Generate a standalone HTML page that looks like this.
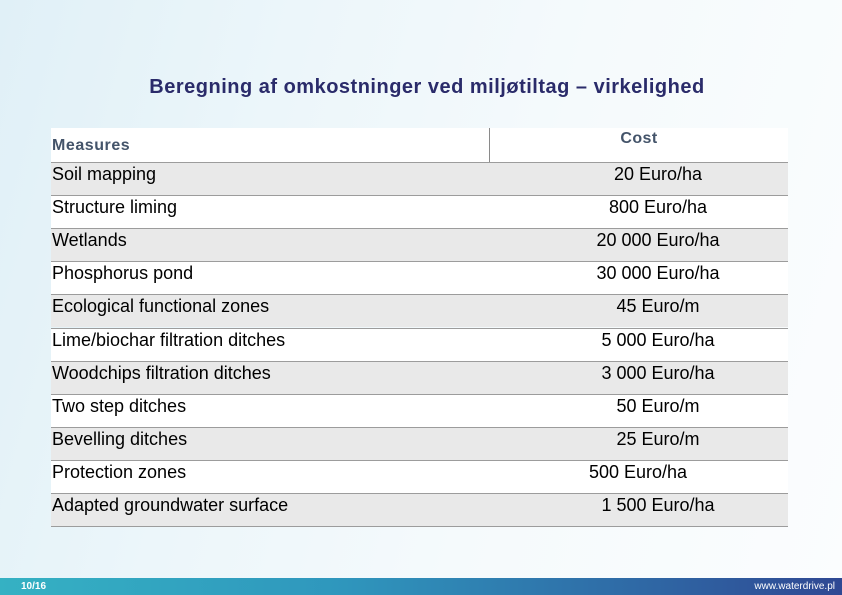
<!DOCTYPE html>
<html>
<head>
<meta charset="utf-8">
<style>
  html,body{margin:0;padding:0;}
  body{width:842px;height:595px;position:relative;overflow:hidden;
    background:linear-gradient(105deg,#e0f0f7 0%,#ecf6fa 30%,#f5fafc 60%,#fbfdfe 100%);
    font-family:"Liberation Sans",Arial,sans-serif;}
  .title{position:absolute;left:0;width:854px;top:75px;text-align:center;
    font-weight:bold;font-size:20px;letter-spacing:0.5px;color:#2a2b6a;line-height:24px;}
  .hdr{position:absolute;left:51px;top:128px;width:737px;height:34px;background:#fff;}
  .vdiv{position:absolute;left:489px;top:128px;width:1px;height:34px;background:#8a8a8a;}
  .hm{position:absolute;left:52px;top:136px;font-weight:bold;font-size:16px;letter-spacing:0.55px;color:#44546a;line-height:20px;}
  .hc{position:absolute;left:560px;width:158px;text-align:center;top:129px;font-weight:bold;font-size:16px;letter-spacing:0.4px;color:#44546a;line-height:20px;}
  .row{position:absolute;left:51px;width:737px;height:33.1px;border-top:1px solid #9c9c9c;box-sizing:border-box;}
  .g{background:#e9e9e9;}
  .w{background:#fff;}
  .lab{position:absolute;left:1px;top:0px;font-size:18px;line-height:22px;color:#000;white-space:nowrap;}
  .val{position:absolute;left:507px;width:200px;top:0px;text-align:center;font-size:18px;line-height:22px;color:#000;white-space:nowrap;}
  .bot{position:absolute;left:51px;top:526px;width:737px;height:1px;background:#9c9c9c;}
  .foot{position:absolute;left:0;top:578px;width:842px;height:17px;
    background:linear-gradient(90deg,#35b1c3 0%,#2f97bd 40%,#2f6aa6 75%,#2f4893 100%);}
  .pg{position:absolute;left:21px;top:580px;font-size:10px;font-weight:bold;color:#fff;line-height:13px;}
  .url{position:absolute;right:7px;top:580px;font-size:10px;color:#fff;line-height:13px;}
</style>
</head>
<body>
<div class="title">Beregning af omkostninger ved miljøtiltag – virkelighed</div>

<div class="hdr"></div>
<div class="vdiv"></div>
<div class="hm">Measures</div>
<div class="hc">Cost</div>

<div class="row g" style="top:162px"><div class="lab">Soil mapping</div><div class="val">20 Euro/ha</div></div>
<div class="row w" style="top:195.1px"><div class="lab">Structure liming</div><div class="val">800 Euro/ha</div></div>
<div class="row g" style="top:228.2px"><div class="lab">Wetlands</div><div class="val">20 000 Euro/ha</div></div>
<div class="row w" style="top:261.3px"><div class="lab">Phosphorus pond</div><div class="val">30 000 Euro/ha</div></div>
<div class="row g" style="top:294.4px"><div class="lab">Ecological functional zones</div><div class="val">45 Euro/m</div></div>
<div class="row w" style="top:327.5px"><div class="lab">Lime/biochar filtration ditches</div><div class="val">5 000 Euro/ha</div></div>
<div class="row g" style="top:360.6px"><div class="lab">Woodchips filtration ditches</div><div class="val">3 000 Euro/ha</div></div>
<div class="row w" style="top:393.7px"><div class="lab">Two step ditches</div><div class="val">50 Euro/m</div></div>
<div class="row g" style="top:426.8px"><div class="lab">Bevelling ditches</div><div class="val">25 Euro/m</div></div>
<div class="row w" style="top:459.9px"><div class="lab">Protection zones</div><div class="val" style="left:487px">500 Euro/ha</div></div>
<div class="row g" style="top:493px"><div class="lab">Adapted groundwater surface</div><div class="val">1 500 Euro/ha</div></div>
<div class="bot"></div>

<div class="foot"></div>
<div class="pg">10/16</div>
<div class="url">www.waterdrive.pl</div>
</body>
</html>
